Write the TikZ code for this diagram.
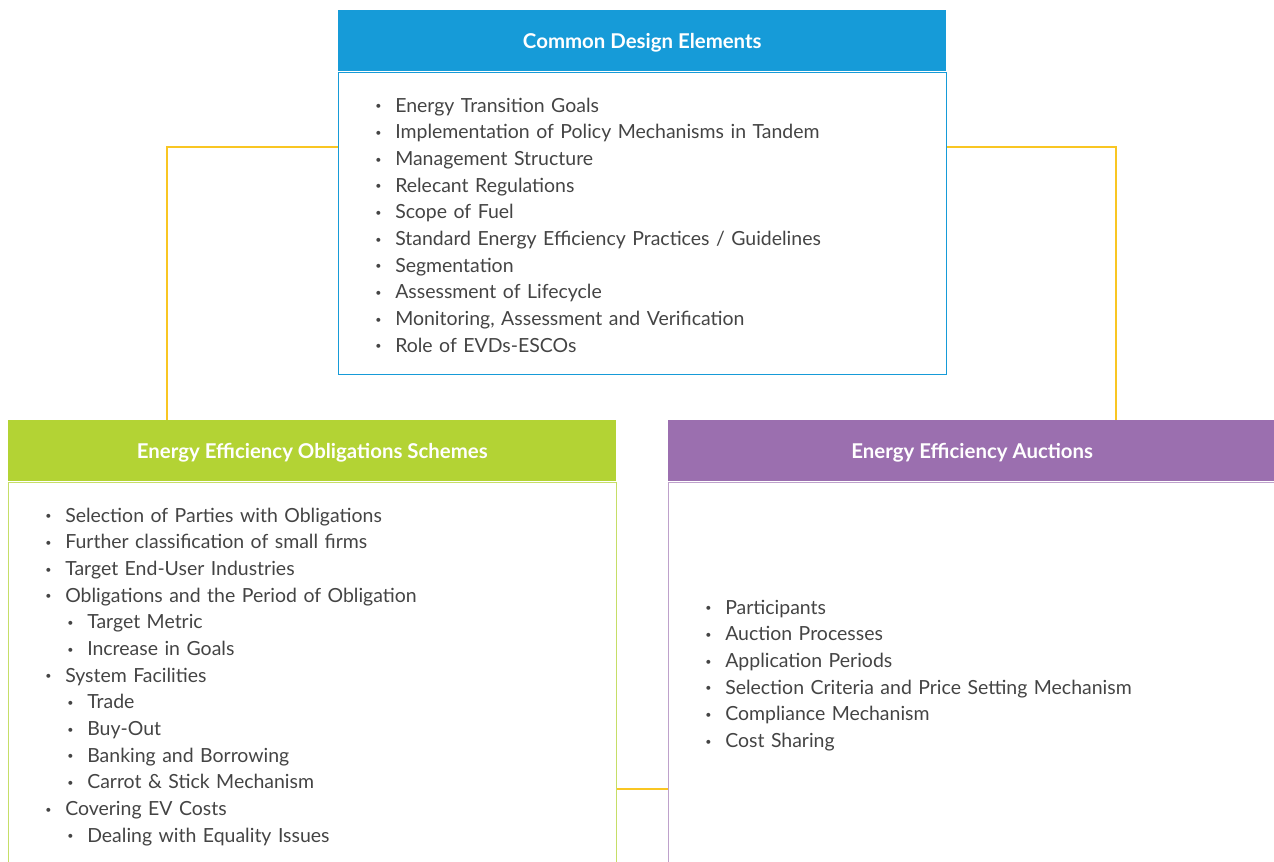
\documentclass[tikz,border=0pt]{standalone}
\usepackage{fontspec}
\setmainfont{Lato}
\usetikzlibrary{positioning}

\definecolor{cdeblue}{HTML}{169BD8}
\definecolor{eeosgreen}{HTML}{B3D334}
\definecolor{eeapurple}{HTML}{9B6FAF}
\definecolor{linkyellow}{HTML}{F9C623}
\definecolor{bodytext}{HTML}{444444}

\newcommand{\bul}[1]{\makebox[15pt][l]{\raisebox{1.7pt}{\footnotesize\textbullet}}#1}
\newcommand{\subbul}[1]{\hspace*{16.5pt}\bul{#1}}

\tikzset{
    header/.style={fill=#1, text=white, inner sep=0pt,
        minimum width=456pt, minimum height=45.75pt,
        text height=13pt, text depth=1pt,
        font=\bfseries\fontsize{15.3}{18}\selectfont},
    bodybox/.style={draw=#1, line width=1.1pt, inner sep=0pt, minimum width=456pt},
    itemlist/.style={anchor=base west, inner sep=0pt, text width=440pt, align=left,
        text=bodytext, font=\fontsize{14.6}{20}\selectfont},
    link/.style={draw=linkyellow, line width=1.1pt}
}

\begin{document}
\begin{tikzpicture}[x=0.75pt, y=-0.75pt]
    \useasboundingbox (0,0) rectangle (1274,861);
    \clip (0,0) rectangle (1274,861);

    % Top box
    \node[header=cdeblue, anchor=north west] (common) at (338,10) {Common Design Elements};
    \node[bodybox=cdeblue, anchor=north, minimum height=226.5pt] (commonbody) at (common.south) {};
    \node[itemlist] (commonlist) at (375,112) {%
        \bul{Energy Transition Goals}\\
        \bul{Implementation of Policy Mechanisms in Tandem}\\
        \bul{Management Structure}\\
        \bul{Relecant Regulations}\\
        \bul{Scope of Fuel}\\
        \bul{Standard Energy Efficiency Practices / Guidelines}\\
        \bul{Segmentation}\\
        \bul{Assessment of Lifecycle}\\
        \bul{Monitoring, Assessment and Verification}\\
        \bul{Role of EVDs-ESCOs}};

    % Left box
    \node[header=eeosgreen, anchor=north west] (eeos) at (8,420) {Energy Efficiency Obligations Schemes};
    \node[bodybox=eeosgreen!75, anchor=north, minimum height=300pt] (eeosbody) at (eeos.south) {};
    \node[itemlist] (eeoslist) at (45,522) {%
        \bul{Selection of Parties with Obligations}\\
        \bul{Further classification of small firms}\\
        \bul{Target End-User Industries}\\
        \bul{Obligations and the Period of Obligation}\\
        \subbul{Target Metric}\\
        \subbul{Increase in Goals}\\
        \bul{System Facilities}\\
        \subbul{Trade}\\
        \subbul{Buy-Out}\\
        \subbul{Banking and Borrowing}\\
        \subbul{Carrot \& Stick Mechanism}\\
        \bul{Covering EV Costs}\\
        \subbul{Dealing with Equality Issues}};

    % Right box
    \node[header=eeapurple, anchor=north west] (eea) at (668,420) {Energy Efficiency Auctions};
    \node[bodybox=eeapurple!65, anchor=north, minimum height=300pt] (eeabody) at (eea.south) {};
    \node[itemlist] (eealist) at (705,614) {%
        \bul{Participants}\\
        \bul{Auction Processes}\\
        \bul{Application Periods}\\
        \bul{Selection Criteria and Price Setting Mechanism}\\
        \bul{Compliance Mechanism}\\
        \bul{Cost Sharing}};

    % Connectors
    \coordinate (ltap) at (167,147);
    \coordinate (rtap) at (1116,147);
    \coordinate (mtap) at (640,789);
    \draw[link] (commonbody.west |- ltap) -- (ltap) -- (ltap |- eeos.north);
    \draw[link] (commonbody.east |- rtap) -- (rtap) -- (rtap |- eea.north);
    \draw[link] (eeosbody.east |- mtap) -- (eeabody.west |- mtap);
\end{tikzpicture}
\end{document}
